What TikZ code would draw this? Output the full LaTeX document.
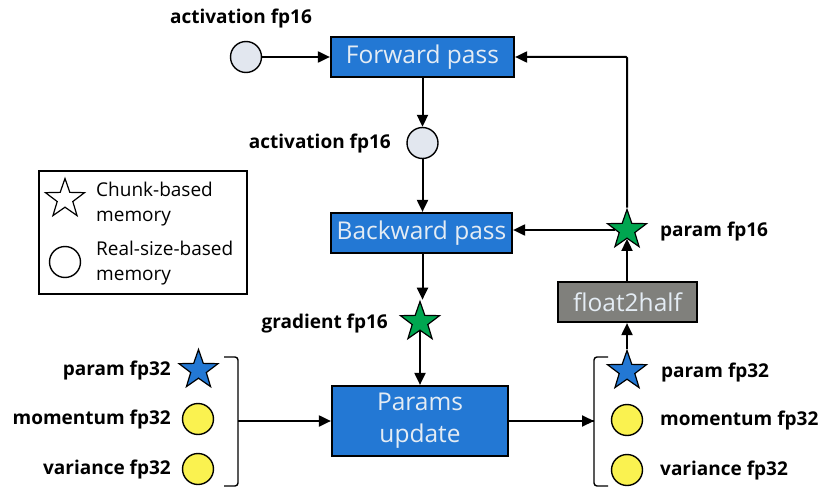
\documentclass[tikz,border=0pt]{standalone}
\usepackage{fontspec}
\setmainfont{Open Sans}
\usetikzlibrary{arrows.meta,shapes.geometric}
\definecolor{boxblue}{RGB}{35,120,212}
\definecolor{boxgray}{RGB}{128,128,124}
\definecolor{boxtext}{RGB}{228,236,244}
\definecolor{stargreen}{RGB}{0,166,80}
\definecolor{circgray}{RGB}{226,231,239}
\definecolor{circyellow}{RGB}{250,242,80}
\tikzset{
  procbox/.style={draw=black,line width=2.2pt,fill=boxblue,text=boxtext,font=\fontsize{24.5}{32}\selectfont,inner sep=0pt,align=center},
  lbl/.style={font=\bfseries\fontsize{19}{22}\selectfont,inner sep=0pt},
  memstar/.style={star,star points=5,star point ratio=2.5,minimum size=41pt,inner sep=0pt,draw=black,line width=1.2pt},
  memcirc/.style={circle,minimum size=31pt,inner sep=0pt,draw=black,line width=1.4pt},
  conn/.style={line width=2pt,-{Triangle[length=12pt,width=11pt]}},
}
\begin{document}
\begin{tikzpicture}[x=1pt,y=-1pt]
\useasboundingbox (0,0) rectangle (830,495);
% process boxes
\node[procbox,minimum width=183pt,minimum height=40pt] (fwd) at (422.5,57) {Forward pass};
\node[procbox,minimum width=181pt,minimum height=40pt] (bwd) at (421.5,233) {Backward pass};
\node[procbox,minimum width=176pt,minimum height=70pt] (upd) at (420,421) {Params\\update};
\node[procbox,fill=boxgray,minimum width=139pt,minimum height=40pt] (f2h) at (627.5,302) {float2half};
% memory items
\node[memcirc,fill=circgray] (act1) at (246,57) {};
\node[lbl] (act1l) at (241,19) {activation fp16};
\node[memcirc,fill=circgray] (act2) at (422.5,143) {};
\node[lbl,anchor=east] (act2l) at (391,144) {activation fp16};
\node[memstar,fill=stargreen] (grad) at (420,322) {};
\node[lbl,anchor=east] (gradl) at (388,324) {gradient fp16};
\node[memstar,fill=stargreen] (p16) at (627,230) {};
\node[lbl,anchor=west] (p16l) at (660,232) {param fp16};
% left group
\node[memstar,fill=boxblue] (lp) at (198.5,370) {};
\node[memcirc,fill=circyellow] (lm) at (198,419) {};
\node[memcirc,fill=circyellow] (lv) at (198,469) {};
\node[lbl,anchor=east] (lpl) at (171,371) {param fp32};
\node[lbl,anchor=east] (lml) at (171,420) {momentum fp32};
\node[lbl,anchor=east] (lvl) at (171,470) {variance fp32};
% right group
\node[memstar,fill=boxblue] (rp) at (627,371) {};
\node[memcirc,fill=circyellow] (rm) at (627,420) {};
\node[memcirc,fill=circyellow] (rv) at (627,470) {};
\node[lbl,anchor=west] (rpl) at (661,373) {param fp32};
\node[lbl,anchor=west] (rml) at (660,421) {momentum fp32};
\node[lbl,anchor=west] (rvl) at (660,471) {variance fp32};
% brackets
\coordinate (lbr) at (238,421);
\coordinate (rbr) at (594,421);
\draw[line width=1.4pt,rounded corners=3pt] (224,357) -- (238,357) -- (238,486) -- (224,486);
\draw[line width=1.4pt] (238,421) -- (241,421);
\draw[line width=1.4pt,rounded corners=3pt] (608,357) -- (594,357) -- (594,486) -- (608,486);
\draw[line width=1.4pt] (594,421) -- (591,421);
% legend
\node[draw=black,line width=1.8pt,minimum width=208pt,minimum height=123pt,inner sep=0pt] (leg) at (143,232.5) {};
\node[memstar,fill=white] (legs) at (65,199) {};
\node[anchor=west,align=left,font=\fontsize{19}{25}\selectfont,inner sep=0pt] (legst) at (96,204) {Chunk-based\\memory};
\node[memcirc,fill=white] (legc) at (65,262) {};
\node[anchor=west,align=left,font=\fontsize{19}{25}\selectfont,inner sep=0pt] (legct) at (96,263) {Real-size-based\\memory};
% connectors
\draw[conn] (act1) -- (fwd);
\draw[conn] (fwd.south -| act2) -- (act2);
\draw[conn] (act2) -- (bwd.north -| act2);
\draw[conn] (bwd.south -| act2) -- (grad.north -| act2);
\draw[conn] (grad.south -| upd) -- (upd.north -| grad);
\draw[conn] (lbr) -- (upd.west |- lbr);
\draw[conn] (upd.east |- rbr) -- (rbr);
\draw[conn] (rp.north) -- (f2h.south -| rp);
\draw[conn] (f2h.north -| p16) -- (p16.south);
\draw[conn] (p16.west) -- (bwd.east |- p16);
\draw[conn,rounded corners=1pt] (p16.north) -- (p16 |- fwd) -- (fwd.east);
\end{tikzpicture}
\end{document}
